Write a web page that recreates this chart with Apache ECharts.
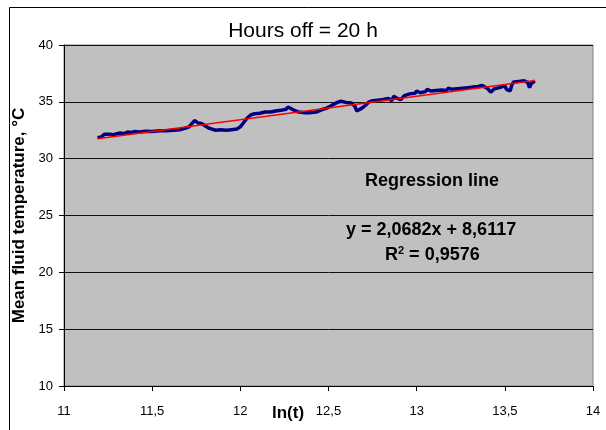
<!DOCTYPE html>
<html><head><meta charset="utf-8">
<script src="https://cdn.jsdelivr.net/npm/echarts@6/dist/echarts.min.js"></script>
<style>html,body{margin:0;padding:0;background:#fff}#c{width:606px;height:430px}</style>
</head><body><div id="c"></div>
<script>
var titleText = 'Hours off = 20 h';
var xAxisName = 'ln(t)';
var yAxisName = 'Mean fluid temperature, °C';
var xTicks = [11, 11.5, 12, 12.5, 13, 13.5, 14];
var yTicks = [10, 15, 20, 25, 30, 35, 40];
var measuredX = [11.19,11.195,11.20,11.21,11.22,11.23,11.24,11.26,11.27,11.28,11.30,11.31,11.32,11.34,11.36,11.37,11.38,11.40,11.43,11.46,11.50,11.54,11.58,11.62,11.66,11.69,11.71,11.72,11.73,11.74,11.75,11.76,11.78,11.80,11.82,11.84,11.86,11.89,11.92,11.95,11.98,12.00,12.02,12.04,12.06,12.08,12.11,12.14,12.17,12.20,12.23,12.26,12.27,12.28,12.30,12.33,12.36,12.40,12.43,12.46,12.49,12.52,12.55,12.57,12.60,12.63,12.65,12.66,12.67,12.69,12.71,12.73,12.75,12.78,12.81,12.84,12.86,12.87,12.88,12.89,12.91,12.93,12.96,12.99,13.00,13.02,13.05,13.06,13.08,13.11,13.12,13.14,13.17,13.18,13.20,13.23,13.24,13.26,13.29,13.30,13.32,13.35,13.37,13.38,13.40,13.41,13.42,13.43,13.44,13.47,13.50,13.51,13.52,13.53,13.54,13.55,13.58,13.61,13.63,13.64,13.65,13.66,13.67];
var measuredY = [31.85,32.0,31.95,31.9,32.05,32.15,32.0,32.15,32.25,32.1,32.2,32.3,32.25,32.2,32.35,32.45,32.3,32.38,32.35,32.42,32.4,32.45,32.45,32.5,32.55,32.7,32.8,33.0,33.05,33.35,33.3,33.15,33.1,32.9,32.7,32.6,32.5,32.55,32.5,32.55,32.6,32.8,33.2,33.6,33.85,33.95,34.0,34.1,34.1,34.2,34.25,34.35,34.55,34.5,34.3,34.1,34.05,34.05,34.1,34.3,34.45,34.7,34.95,35.05,34.95,34.9,34.6,34.2,34.35,34.45,34.7,35.0,35.1,35.15,35.2,35.3,35.1,35.5,35.35,35.3,35.2,35.55,35.7,35.75,35.95,35.8,35.9,36.1,35.95,36.0,35.85,36.05,36.0,36.2,36.1,36.15,36.0,36.2,36.25,36.1,36.3,36.35,36.45,36.4,36.2,36.05,35.85,36.0,36.15,36.25,36.4,36.1,36.2,35.95,36.5,36.75,36.8,36.85,36.7,36.25,36.6,36.45,36.85];
var regressionX = [11.19, 13.67];
var regressionY = [31.75, 36.88];
var annotation1 = 'Regression line';
var annotation2 = 'y = 2,0682x + 8,6117';
var annotation3 = ['R', '2', ' = 0,9576'];

function pairs(xs, ys){ return xs.map(function(x,i){ return [x, ys[i]]; }); }
function fmt(v){ return String(v).replace('.', ','); }

var chart = echarts.init(document.getElementById('c'), null, {renderer:'canvas'});
var F = 'Liberation Sans, Arial, sans-serif';
chart.setOption({
  animation: false,
  backgroundColor: '#fff',
  title: { text: titleText, left: 'center', top: 16, textStyle: { fontFamily: F, fontSize: 21, fontWeight: 'normal', color: '#000' } },
  grid: { left: 64, right: 13, top: 45, bottom: 44, show: true, backgroundColor: '#c0c0c0', borderColor: '#808080', borderWidth: 1 },
  xAxis: {
    type: 'value', min: xTicks[0], max: xTicks[xTicks.length-1], interval: 0.5,
    axisLine: { onZero: false, lineStyle: { color: '#000', width: 1 } },
    axisTick: { show: true, inside: false, length: 5, lineStyle: { color: '#000' } },
    axisLabel: { fontFamily: F, fontSize: 13, color: '#000', margin: 19, formatter: fmt },
    splitLine: { show: false }
  },
  yAxis: {
    type: 'value', min: yTicks[0], max: yTicks[yTicks.length-1], interval: 5,
    name: yAxisName, nameLocation: 'middle', nameGap: 34, nameRotate: 90,
    nameTextStyle: { fontFamily: F, fontSize: 17, fontWeight: 'bold', color: '#000' },
    axisLine: { show: true, onZero: false, lineStyle: { color: '#000', width: 1 } },
    axisTick: { show: true, inside: false, length: 5, lineStyle: { color: '#000' } },
    axisLabel: { fontFamily: F, fontSize: 13, color: '#000', margin: 11, formatter: fmt },
    splitLine: { show: true, lineStyle: { color: '#111', width: 1 } }
  },
  series: [
    { type: 'line', data: pairs(measuredX, measuredY), showSymbol: false, symbol: 'none', lineStyle: { color: '#000080', width: 3.5 }, z: 2 },
    { type: 'line', data: pairs(regressionX, regressionY), showSymbol: false, symbol: 'none', lineStyle: { color: '#ff0000', width: 1.5 }, z: 3 }
  ],
  graphic: [
    { type: 'rect', left: 7, top: 5, shape: { width: 640, height: 460 }, style: { fill: 'none', stroke: '#000', lineWidth: 1 }, silent: true, z: -10 },
    { type: 'text', left: 272, top: 405, style: { text: xAxisName, font: 'bold 17px ' + F, fill: '#000' } },
    { type: 'text', left: 365, top: 172, style: { text: annotation1, font: 'bold 18px ' + F, fill: '#000' } },
    { type: 'text', left: 346, top: 221, style: { text: annotation2, font: 'bold 18px ' + F, fill: '#000' } },
    { type: 'text', left: 385, top: 245, style: { text: '{a|' + annotation3[0] + '}{s|' + annotation3[1] + '}{a|' + annotation3[2] + '}', rich: { a: { font: 'bold 18px ' + F, fill: '#000', verticalAlign: 'bottom' }, s: { font: 'bold 11px ' + F, fill: '#000', verticalAlign: 'top', padding: [0,0,8,0] } } } }
  ]
});
</script></body></html>
